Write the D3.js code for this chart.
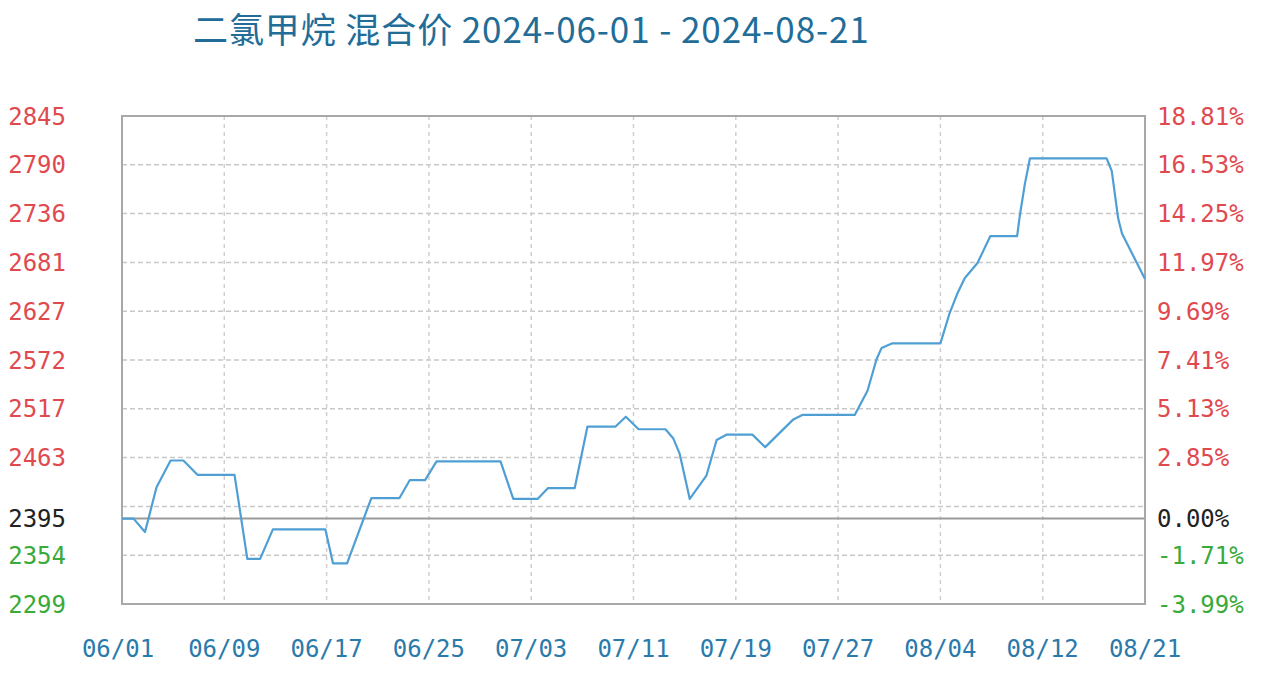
<!DOCTYPE html>
<html>
<head>
<meta charset="utf-8">
<script src="https://cdn.jsdelivr.net/npm/d3@7/dist/d3.min.js"></script>
<style>
  html, body { margin: 0; padding: 0; background: #fff; }
  svg { display: block; }
</style>
</head>
<body>
<svg id="chart" width="1267" height="677"></svg>
<script>
// ---- data ----
const titleText = "二氯甲烷 混合价 2024-06-01 - 2024-08-21";
const basePrice = 2395;
const pctTicks = [18.81, 16.53, 14.25, 11.97, 9.69, 7.41, 5.13, 2.85, 0.00, -1.71, -3.99];
const unlabeledPct = [0.57];
const xTickPos = [0, 8, 16, 24, 32, 40, 48, 56, 64, 72, 80];
const xTickLabels = ["06/01", "06/09", "06/17", "06/25", "07/03", "07/11", "07/19", "07/27", "08/04", "08/12", "08/21"];
const dayPos = [0, 0.9, 1.8, 2.7, 3.8, 4.8, 5.9, 8.8, 9.8, 10.8, 11.8, 15.9, 16.5, 17.6, 19.5,
  21.7, 22.5, 23.7, 24.6, 29.6, 30.6, 32.5, 33.3, 35.4, 36.4, 38.6, 39.4, 40.4, 42.5, 43.1,
  43.6, 44.4, 45.7, 46.5, 47.3, 49.3, 50.3, 52.5, 53.2, 57.3, 58.3, 59.0, 59.4, 60.2, 64.0,
  64.7, 65.3, 65.9, 66.9, 67.9, 70.0, 70.2, 70.6, 71.0, 77.0, 77.4, 77.9, 78.2, 80];
const price = [2395, 2395, 2380, 2430, 2460, 2460, 2444, 2444, 2350, 2350, 2383, 2383, 2345, 2345, 2418,
  2418, 2438, 2438, 2459, 2459, 2417, 2417, 2429, 2429, 2498, 2498, 2509, 2495, 2495, 2485,
  2468, 2417, 2443, 2483, 2489, 2489, 2475, 2506, 2511, 2511, 2538, 2573, 2586, 2591, 2591,
  2624, 2646, 2664, 2681, 2711, 2711, 2733, 2769, 2798, 2798, 2784, 2731, 2714, 2663];

// ---- layout ----
const L = 122, R = 1145, T = 116, B = 604;
const svg = d3.select("#chart");

const toPrice = p => basePrice * (1 + p / 100);
const x = d3.scaleLinear().domain([0, 80]).range([L, R]);
const y = d3.scaleLinear()
  .domain([toPrice(d3.min(pctTicks)), toPrice(d3.max(pctTicks))])
  .range([B, T]);

// title
svg.append("text")
  .attr("x", 193).attr("y", 43)
  .attr("font-family", "'Noto Sans CJK SC', 'Noto Sans', sans-serif")
  .attr("font-size", 35)
  .attr("letter-spacing", 0.9)
  .attr("fill", "#226d98")
  .text(titleText);

// horizontal grid
const gridPct = pctTicks.concat(unlabeledPct).filter(p => p !== 0);
svg.append("g").selectAll("line").data(gridPct).join("line")
  .attr("x1", L).attr("x2", R)
  .attr("y1", d => y(toPrice(d))).attr("y2", d => y(toPrice(d)))
  .attr("stroke", "#c8c8c8").attr("stroke-width", 1.5)
  .attr("stroke-dasharray", "5,3");

// vertical grid
svg.append("g").selectAll("line").data(xTickPos.slice(1, -1)).join("line")
  .attr("x1", d => x(d)).attr("x2", d => x(d))
  .attr("y1", T).attr("y2", B)
  .attr("stroke", "#cfcfcf").attr("stroke-width", 1.5)
  .attr("stroke-dasharray", "4,4");

// baseline
svg.append("line")
  .attr("x1", L).attr("x2", R)
  .attr("y1", y(basePrice)).attr("y2", y(basePrice))
  .attr("stroke", "#9a9a9a").attr("stroke-width", 2);

// border
svg.append("rect")
  .attr("x", L).attr("y", T).attr("width", R - L).attr("height", B - T)
  .attr("fill", "none").attr("stroke", "#a8a8a8").attr("stroke-width", 2);

// line
const pts = dayPos.map((d, i) => [d, price[i]]);
svg.append("path")
  .datum(pts)
  .attr("fill", "none")
  .attr("stroke", "#4f9fd5")
  .attr("stroke-width", 2.2)
  .attr("stroke-linejoin", "round")
  .attr("d", d3.line().x(d => x(d[0])).y(d => y(d[1])));

const colorFor = p => p > 0 ? "#e04a4f" : (p < 0 ? "#3aaa3a" : "#222");
const mono = "'DejaVu Sans Mono', 'Liberation Mono', monospace";

// left axis labels
svg.append("g").selectAll("text").data(pctTicks).join("text")
  .attr("x", 66)
  .attr("y", d => y(toPrice(d)))
  .attr("dy", "0.36em")
  .attr("text-anchor", "end")
  .attr("font-family", mono)
  .attr("font-size", 24)
  .attr("fill", d => colorFor(d))
  .text(d => Math.floor(toPrice(d) + 1e-6));

// right axis labels
svg.append("g").selectAll("text").data(pctTicks).join("text")
  .attr("x", 1157)
  .attr("y", d => y(toPrice(d)))
  .attr("dy", "0.36em")
  .attr("font-family", mono)
  .attr("font-size", 24)
  .attr("fill", d => colorFor(d))
  .text(d => d.toFixed(2) + "%");

// x axis labels
svg.append("g").selectAll("text").data(xTickPos).join("text")
  .attr("x", (d, i) => x(d) - (i === 0 ? 4 : 0))
  .attr("y", 657)
  .attr("text-anchor", "middle")
  .attr("font-family", mono)
  .attr("font-size", 24)
  .attr("fill", "#2a7aab")
  .text((d, i) => xTickLabels[i]);
</script>
</body>
</html>
